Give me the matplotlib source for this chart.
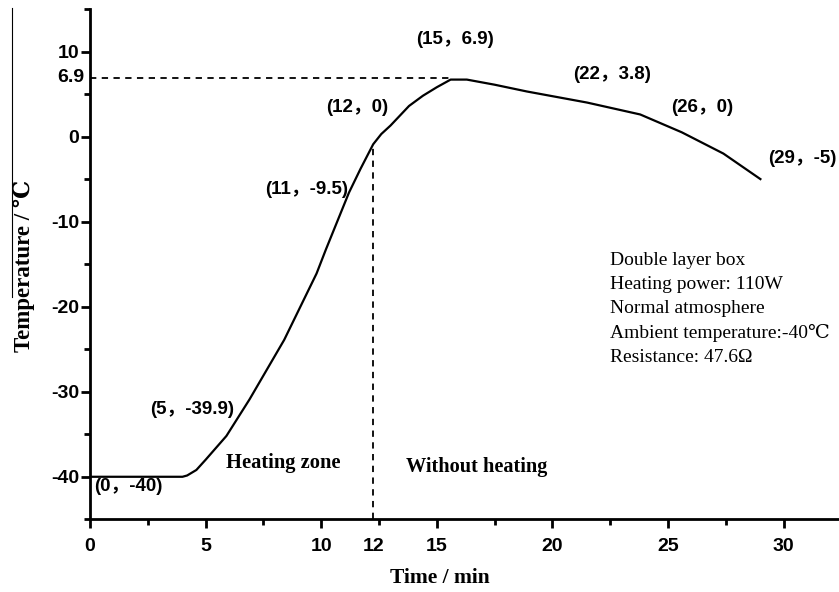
import matplotlib
matplotlib.use('Agg')
import matplotlib.pyplot as plt
from matplotlib.ticker import MultipleLocator
from matplotlib.transforms import blended_transform_factory
from matplotlib.lines import Line2D

plt.rcParams['axes.unicode_minus'] = False

# temperature curve
time_min = [0, 1, 2, 3, 4.0, 4.2, 4.6, 5.0, 5.9, 6.9, 8.4, 9.8, 10.2, 11.2, 11.7,
            12.25, 12.6, 13.0, 13.8, 14.4, 15.0, 15.6, 16.3, 17.5, 18.9, 21.5,
            23.8, 25.6, 27.4, 29.0]
temp_c = [-40, -40, -40, -40, -40, -39.85, -39.2, -38.0, -35.2, -30.9, -23.9, -16.1,
          -13.3, -6.6, -3.8, -0.9, 0.3, 1.3, 3.6, 4.8, 5.8, 6.7, 6.7, 6.1, 5.3, 4.0,
          2.6, 0.5, -2.0, -5.0]

peak_temp = 6.9
peak_time = 15.6
heat_off_time = 12.25
heat_off_temp = -0.9

# annotations: (text, x, y)
point_labels = [
    ('(0，-40)', 1.65, -41.1),
    ('(5，-39.9)', 4.4, -32.1),
    ('(11，-9.5)', 9.35, -6.2),
    ('(12，0)', 11.55, 3.4),
    ('(15，6.9)', 15.8, 11.4),
    ('(22，3.8)', 22.6, 7.3),
    ('(26，0)', 26.5, 3.4),
    ('(29，-5)', 30.8, -2.6),
]
info_lines = ['Double layer box', 'Heating power: 110W', 'Normal atmosphere',
              'Ambient temperature:-40℃', 'Resistance: 47.6Ω']

sans = ['Liberation Sans', 'Noto Sans CJK SC', 'DejaVu Sans']
serif = ['Liberation Serif', 'DejaVu Serif', 'Noto Sans CJK SC']

fig = plt.figure(figsize=(8.39, 5.92), dpi=100)
ax = fig.add_axes([0.1073, 0.1228, 0.8927, 0.862])

ax.plot(time_min, temp_c, color='black', lw=1.6)

# dashed guides
ax.plot([0, peak_time], [peak_temp, peak_temp], color='black', lw=1.3, ls=(0, (3.5, 3)))
ax.plot([heat_off_time, heat_off_time], [-45, heat_off_temp], color='black', lw=1.3,
        ls=(0, (3.5, 3)))

ax.set_xlim(0, 32.4)
ax.set_ylim(-45, 15)
ax.set_xticks([0, 5, 10, 15, 20, 25, 30])
ax.set_yticks([-40, -30, -20, -10, 0, 10])
ax.xaxis.set_minor_locator(MultipleLocator(2.5))
ax.yaxis.set_minor_locator(MultipleLocator(5))
for s in ['top', 'right']:
    ax.spines[s].set_visible(False)
for s in ['left', 'bottom']:
    ax.spines[s].set_linewidth(2.0)
ax.tick_params(which='major', direction='out', length=6.5, width=2.0)
ax.tick_params(which='minor', direction='out', length=4, width=2.0)
ax.tick_params(axis='x', which='major', pad=7)
ax.tick_params(axis='y', which='major', pad=1.5)
for lab in ax.get_xticklabels() + ax.get_yticklabels():
    lab.set_family(sans)
    lab.set_fontweight('bold')
    lab.set_fontsize(14)

# extra labels on the axes
tx = blended_transform_factory(ax.transData, ax.transAxes)
ax.text(heat_off_time, -0.037, '12', transform=tx, ha='center', va='top',
        family=sans, fontweight='bold', fontsize=14)
ty = blended_transform_factory(ax.transAxes, ax.transData)
ax.text(-0.008, peak_temp, '6.9', transform=ty, ha='right', va='center',
        family=sans, fontweight='bold', fontsize=14)

for txt, x, y in point_labels:
    ax.text(x, y, txt, ha='center', va='center', family=sans, fontsize=13.5,
            fontweight='bold')

ax.text(5.9, -38.4, 'Heating zone', ha='left', va='center', family=serif,
        fontweight='bold', fontsize=14.8)
ax.text(13.68, -38.8, 'Without heating', ha='left', va='center', family=serif,
        fontweight='bold', fontsize=14.6)

for i, line in enumerate(info_lines):
    ax.text(22.5, -14.6 - i * 2.83, line, ha='left', va='center', family=serif,
            fontsize=14)

fig.text(440 / 839, 1 - 578 / 592, 'Time / min', ha='center', va='center',
         family=serif, fontweight='bold', fontsize=15.5)
fig.text(24 / 839, 1 - 266 / 592, 'Temperature / ℃', ha='center', va='center',
         rotation=90, family=serif, fontweight='bold', fontsize=16.5)

# stray scan line at the left edge
fig.add_artist(Line2D([12 / 839, 12 / 839], [1 - 8 / 592, 1 - 297 / 592],
                      color='black', lw=0.8))

fig.savefig('out.png', dpi=100)
